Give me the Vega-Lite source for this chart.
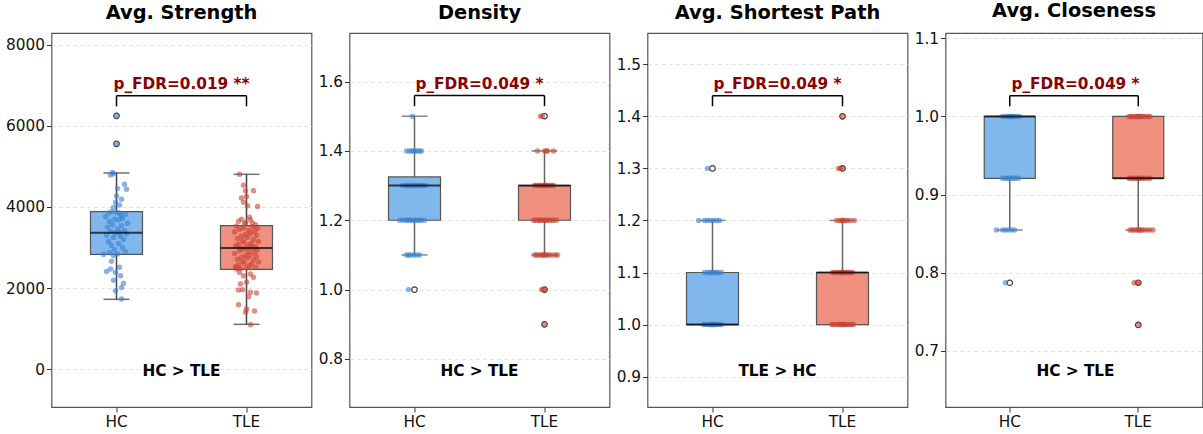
{
"$schema":"https://vega.github.io/schema/vega-lite/v6.json",
"padding":{"left":4.5,"right":0,"top":0,"bottom":0},
"spacing":5,
"config":{
 "font":"DejaVu Sans",
 "view":{"stroke":"#555","strokeWidth":1.2},
 "title":{"fontSize":19.4,"fontWeight":"bold","color":"black","frame":"group","anchor":"middle","offset":10},
 "axis":{"domain":false,"labelFontSize":15.3,"labelColor":"#111","tickColor":"#333","tickSize":5,"labelPadding":2,"title":null},
 "axisY":{"grid":true,"gridDash":[4,3],"gridColor":"#dddddd","gridWidth":0.8},
 "axisX":{"grid":false,"labelAngle":0}
},
"datasets":{
"box":[
 {"m":"S","g":"HC","lo":1721,"q1":2832,"med":3365,"q3":3884,"hi":4840},
 {"m":"S","g":"TLE","lo":1103,"q1":2461,"med":2988,"q3":3538,"hi":4807},
 {"m":"D","g":"HC","lo":1.1,"q1":1.2,"med":1.3,"q3":1.325,"hi":1.5},
 {"m":"D","g":"TLE","lo":1.1,"q1":1.2,"med":1.3,"q3":1.3,"hi":1.4},
 {"m":"P","g":"HC","lo":1.0,"q1":1.0,"med":1.0,"q3":1.1,"hi":1.2},
 {"m":"P","g":"TLE","lo":1.0,"q1":1.0,"med":1.1,"q3":1.1,"hi":1.2},
 {"m":"C","g":"HC","lo":0.8545,"q1":0.9207,"med":1.0,"q3":1.0,"hi":1.0},
 {"m":"C","g":"TLE","lo":0.8545,"q1":0.9207,"med":0.9207,"q3":1.0,"hi":1.0}
],
"fl":[
 {"m":"S","g":"HC","v":6250},{"m":"S","g":"HC","v":5560},
 {"m":"D","g":"HC","v":1.0},{"m":"D","g":"TLE","v":1.5},{"m":"D","g":"TLE","v":1.0},{"m":"D","g":"TLE","v":0.9},
 {"m":"P","g":"HC","v":1.3},{"m":"P","g":"TLE","v":1.3},{"m":"P","g":"TLE","v":1.4},
 {"m":"C","g":"HC","v":0.787},{"m":"C","g":"TLE","v":0.787},{"m":"C","g":"TLE","v":0.733}
],
"br":[
 {"m":"S","g":"HC","v":6748,"v2":6486},{"m":"S","g":"TLE","v":6748,"v2":6486},
 {"m":"D","g":"HC","v":1.5596,"v2":1.529},{"m":"D","g":"TLE","v":1.5596,"v2":1.529},
 {"m":"P","g":"HC","v":1.4397,"v2":1.4193},{"m":"P","g":"TLE","v":1.4397,"v2":1.4193},
 {"m":"C","g":"HC","v":1.0265,"v2":1.0129},{"m":"C","g":"TLE","v":1.0265,"v2":1.0129}
],
"ann":[
 {"m":"S","k":"p","g":"HC","d":65,"v":7037,"t":"p_FDR=0.019 **"},
 {"m":"S","k":"b","g":"HC","d":65,"v":-42,"t":"HC > TLE"},
 {"m":"D","k":"p","g":"HC","d":65,"v":1.5934,"t":"p_FDR=0.049 *"},
 {"m":"D","k":"b","g":"HC","d":65,"v":0.7664,"t":"HC > TLE"},
 {"m":"P","k":"p","g":"HC","d":65,"v":1.4622,"t":"p_FDR=0.049 *"},
 {"m":"P","k":"b","g":"HC","d":65,"v":0.9114,"t":"TLE > HC"},
 {"m":"C","k":"p","g":"HC","d":65,"v":1.0415,"t":"p_FDR=0.049 *"},
 {"m":"C","k":"b","g":"HC","d":65,"v":0.6743,"t":"HC > TLE"}
],
"pts":[
{"m":"S","g":"HC","v":6250,"d":0},{"m":"S","g":"HC","v":5560,"d":0},
{"m":"S","g":"HC","v":4850,"d":-4},{"m":"S","g":"HC","v":4790,"d":-6},{"m":"S","g":"HC","v":4820,"d":-3},{"m":"S","g":"HC","v":4560,"d":8},{"m":"S","g":"HC","v":4440,"d":10},{"m":"S","g":"HC","v":4460,"d":1},{"m":"S","g":"HC","v":4270,"d":0},{"m":"S","g":"HC","v":4190,"d":5},{"m":"S","g":"HC","v":4120,"d":-1},{"m":"S","g":"HC","v":4050,"d":3},{"m":"S","g":"HC","v":3990,"d":-3},{"m":"S","g":"HC","v":3870,"d":0},{"m":"S","g":"HC","v":3850,"d":-8},{"m":"S","g":"HC","v":3790,"d":4},
{"m":"S","g":"HC","v":3880,"d":-5},{"m":"S","g":"HC","v":3850,"d":3},{"m":"S","g":"HC","v":3820,"d":9},{"m":"S","g":"HC","v":3760,"d":-11},{"m":"S","g":"HC","v":3720,"d":6},{"m":"S","g":"HC","v":3700,"d":-2},{"m":"S","g":"HC","v":3680,"d":2},{"m":"S","g":"HC","v":3640,"d":-7},{"m":"S","g":"HC","v":3600,"d":11},{"m":"S","g":"HC","v":3560,"d":-4},{"m":"S","g":"HC","v":3540,"d":5},{"m":"S","g":"HC","v":3500,"d":-9},{"m":"S","g":"HC","v":3460,"d":1},{"m":"S","g":"HC","v":3420,"d":8},{"m":"S","g":"HC","v":3400,"d":-6},{"m":"S","g":"HC","v":3380,"d":3},{"m":"S","g":"HC","v":3360,"d":-1},{"m":"S","g":"HC","v":3340,"d":10},{"m":"S","g":"HC","v":3300,"d":-10},{"m":"S","g":"HC","v":3280,"d":4},{"m":"S","g":"HC","v":3250,"d":-3},{"m":"S","g":"HC","v":3200,"d":7},{"m":"S","g":"HC","v":3150,"d":-8},{"m":"S","g":"HC","v":3100,"d":2},{"m":"S","g":"HC","v":3050,"d":-5},{"m":"S","g":"HC","v":3000,"d":6},{"m":"S","g":"HC","v":2950,"d":-2},{"m":"S","g":"HC","v":2900,"d":9},{"m":"S","g":"HC","v":2870,"d":-7},{"m":"S","g":"HC","v":2840,"d":1},
{"m":"S","g":"HC","v":2830,"d":-13},{"m":"S","g":"HC","v":2800,"d":-3},{"m":"S","g":"HC","v":2660,"d":-5},{"m":"S","g":"HC","v":2410,"d":-10},{"m":"S","g":"HC","v":2470,"d":-6},{"m":"S","g":"HC","v":2510,"d":3},{"m":"S","g":"HC","v":2390,"d":-1},{"m":"S","g":"HC","v":2300,"d":4},{"m":"S","g":"HC","v":2190,"d":-3},{"m":"S","g":"HC","v":2120,"d":7},{"m":"S","g":"HC","v":2010,"d":5},{"m":"S","g":"HC","v":1930,"d":-1},{"m":"S","g":"HC","v":1730,"d":5},
{"m":"S","g":"TLE","v":4810,"d":-7},{"m":"S","g":"TLE","v":4540,"d":-3},{"m":"S","g":"TLE","v":4400,"d":-1},{"m":"S","g":"TLE","v":4400,"d":7},{"m":"S","g":"TLE","v":4220,"d":-5},{"m":"S","g":"TLE","v":4260,"d":0},{"m":"S","g":"TLE","v":4120,"d":-3},{"m":"S","g":"TLE","v":4030,"d":1},{"m":"S","g":"TLE","v":4010,"d":11},{"m":"S","g":"TLE","v":3750,"d":3},{"m":"S","g":"TLE","v":3700,"d":-5},{"m":"S","g":"TLE","v":3620,"d":-1},{"m":"S","g":"TLE","v":3680,"d":4},{"m":"S","g":"TLE","v":3650,"d":-8},{"m":"S","g":"TLE","v":3600,"d":6},{"m":"S","g":"TLE","v":3580,"d":-2},{"m":"S","g":"TLE","v":3560,"d":9},
{"m":"S","g":"TLE","v":3530,"d":-10},{"m":"S","g":"TLE","v":3510,"d":6},{"m":"S","g":"TLE","v":3490,"d":-3},{"m":"S","g":"TLE","v":3470,"d":11},{"m":"S","g":"TLE","v":3450,"d":-7},{"m":"S","g":"TLE","v":3420,"d":2},{"m":"S","g":"TLE","v":3400,"d":8},{"m":"S","g":"TLE","v":3380,"d":-12},{"m":"S","g":"TLE","v":3350,"d":4},{"m":"S","g":"TLE","v":3320,"d":-1},{"m":"S","g":"TLE","v":3300,"d":10},{"m":"S","g":"TLE","v":3280,"d":-5},{"m":"S","g":"TLE","v":3250,"d":1},{"m":"S","g":"TLE","v":3220,"d":-9},{"m":"S","g":"TLE","v":3200,"d":7},{"m":"S","g":"TLE","v":3170,"d":-4},{"m":"S","g":"TLE","v":3150,"d":12},{"m":"S","g":"TLE","v":3120,"d":-2},{"m":"S","g":"TLE","v":3100,"d":5},{"m":"S","g":"TLE","v":3080,"d":-8},{"m":"S","g":"TLE","v":3060,"d":3},{"m":"S","g":"TLE","v":3040,"d":-11},{"m":"S","g":"TLE","v":3020,"d":9},{"m":"S","g":"TLE","v":3000,"d":0},{"m":"S","g":"TLE","v":2990,"d":-6},
{"m":"S","g":"TLE","v":2980,"d":6},{"m":"S","g":"TLE","v":2960,"d":-3},{"m":"S","g":"TLE","v":2940,"d":11},{"m":"S","g":"TLE","v":2920,"d":-7},{"m":"S","g":"TLE","v":2900,"d":2},{"m":"S","g":"TLE","v":2880,"d":8},{"m":"S","g":"TLE","v":2850,"d":-12},{"m":"S","g":"TLE","v":2820,"d":4},{"m":"S","g":"TLE","v":2800,"d":-1},{"m":"S","g":"TLE","v":2780,"d":10},{"m":"S","g":"TLE","v":2760,"d":-5},{"m":"S","g":"TLE","v":2740,"d":1},{"m":"S","g":"TLE","v":2710,"d":-9},{"m":"S","g":"TLE","v":2690,"d":7},{"m":"S","g":"TLE","v":2660,"d":-4},{"m":"S","g":"TLE","v":2640,"d":12},{"m":"S","g":"TLE","v":2610,"d":-2},{"m":"S","g":"TLE","v":2590,"d":5},{"m":"S","g":"TLE","v":2570,"d":-8},{"m":"S","g":"TLE","v":2550,"d":3},{"m":"S","g":"TLE","v":2530,"d":-11},{"m":"S","g":"TLE","v":2510,"d":9},{"m":"S","g":"TLE","v":2490,"d":0},{"m":"S","g":"TLE","v":2480,"d":-6},{"m":"S","g":"TLE","v":2470,"d":-10},
{"m":"S","g":"TLE","v":2387,"d":-7},{"m":"S","g":"TLE","v":2304,"d":-3},{"m":"S","g":"TLE","v":2346,"d":4},{"m":"S","g":"TLE","v":2264,"d":7},{"m":"S","g":"TLE","v":2099,"d":-6},{"m":"S","g":"TLE","v":2140,"d":0},{"m":"S","g":"TLE","v":1950,"d":-8},{"m":"S","g":"TLE","v":1958,"d":-4},{"m":"S","g":"TLE","v":1893,"d":4},{"m":"S","g":"TLE","v":1877,"d":10},{"m":"S","g":"TLE","v":1786,"d":2},{"m":"S","g":"TLE","v":1588,"d":-8},{"m":"S","g":"TLE","v":1432,"d":8},{"m":"S","g":"TLE","v":1481,"d":0},{"m":"S","g":"TLE","v":1400,"d":-1},{"m":"S","g":"TLE","v":1094,"d":4},

{"m":"D","g":"HC","v":1.5,"d":-2},
{"m":"D","g":"HC","v":1.4,"d":-8},{"m":"D","g":"HC","v":1.4,"d":-5},{"m":"D","g":"HC","v":1.4,"d":-3},{"m":"D","g":"HC","v":1.4,"d":-1},{"m":"D","g":"HC","v":1.4,"d":1},{"m":"D","g":"HC","v":1.4,"d":3},{"m":"D","g":"HC","v":1.4,"d":5},{"m":"D","g":"HC","v":1.4,"d":7},
{"m":"D","g":"HC","v":1.3,"d":-12},{"m":"D","g":"HC","v":1.3,"d":-9},{"m":"D","g":"HC","v":1.3,"d":-7},{"m":"D","g":"HC","v":1.3,"d":-5},{"m":"D","g":"HC","v":1.3,"d":-3},{"m":"D","g":"HC","v":1.3,"d":-1},{"m":"D","g":"HC","v":1.3,"d":0},{"m":"D","g":"HC","v":1.3,"d":2},{"m":"D","g":"HC","v":1.3,"d":4},{"m":"D","g":"HC","v":1.3,"d":6},{"m":"D","g":"HC","v":1.3,"d":8},{"m":"D","g":"HC","v":1.3,"d":11},
{"m":"D","g":"HC","v":1.2,"d":-15},{"m":"D","g":"HC","v":1.2,"d":-12},{"m":"D","g":"HC","v":1.2,"d":-9},{"m":"D","g":"HC","v":1.2,"d":-7},{"m":"D","g":"HC","v":1.2,"d":-5},{"m":"D","g":"HC","v":1.2,"d":-3},{"m":"D","g":"HC","v":1.2,"d":-1},{"m":"D","g":"HC","v":1.2,"d":1},{"m":"D","g":"HC","v":1.2,"d":3},{"m":"D","g":"HC","v":1.2,"d":5},{"m":"D","g":"HC","v":1.2,"d":7},{"m":"D","g":"HC","v":1.2,"d":10},
{"m":"D","g":"HC","v":1.1,"d":-8},{"m":"D","g":"HC","v":1.1,"d":-6},{"m":"D","g":"HC","v":1.1,"d":-4},{"m":"D","g":"HC","v":1.1,"d":-1},{"m":"D","g":"HC","v":1.1,"d":2},{"m":"D","g":"HC","v":1.1,"d":5},
{"m":"D","g":"HC","v":1.0,"d":-6},
{"m":"D","g":"TLE","v":1.5,"d":-4},{"m":"D","g":"TLE","v":1.5,"d":-2},
{"m":"D","g":"TLE","v":1.4,"d":-7},{"m":"D","g":"TLE","v":1.4,"d":0},{"m":"D","g":"TLE","v":1.4,"d":2},{"m":"D","g":"TLE","v":1.4,"d":3},{"m":"D","g":"TLE","v":1.4,"d":9},
{"m":"D","g":"TLE","v":1.3,"d":-10},{"m":"D","g":"TLE","v":1.3,"d":-8},{"m":"D","g":"TLE","v":1.3,"d":-6},{"m":"D","g":"TLE","v":1.3,"d":-4},{"m":"D","g":"TLE","v":1.3,"d":-3},{"m":"D","g":"TLE","v":1.3,"d":-1},{"m":"D","g":"TLE","v":1.3,"d":0},{"m":"D","g":"TLE","v":1.3,"d":1},{"m":"D","g":"TLE","v":1.3,"d":2},{"m":"D","g":"TLE","v":1.3,"d":3},{"m":"D","g":"TLE","v":1.3,"d":5},{"m":"D","g":"TLE","v":1.3,"d":7},{"m":"D","g":"TLE","v":1.3,"d":9},
{"m":"D","g":"TLE","v":1.2,"d":-11},{"m":"D","g":"TLE","v":1.2,"d":-9},{"m":"D","g":"TLE","v":1.2,"d":-7},{"m":"D","g":"TLE","v":1.2,"d":-5},{"m":"D","g":"TLE","v":1.2,"d":-4},{"m":"D","g":"TLE","v":1.2,"d":-2},{"m":"D","g":"TLE","v":1.2,"d":0},{"m":"D","g":"TLE","v":1.2,"d":1},{"m":"D","g":"TLE","v":1.2,"d":3},{"m":"D","g":"TLE","v":1.2,"d":5},{"m":"D","g":"TLE","v":1.2,"d":7},{"m":"D","g":"TLE","v":1.2,"d":9},{"m":"D","g":"TLE","v":1.2,"d":12},
{"m":"D","g":"TLE","v":1.1,"d":-10},{"m":"D","g":"TLE","v":1.1,"d":-8},{"m":"D","g":"TLE","v":1.1,"d":-6},{"m":"D","g":"TLE","v":1.1,"d":-4},{"m":"D","g":"TLE","v":1.1,"d":-2},{"m":"D","g":"TLE","v":1.1,"d":-1},{"m":"D","g":"TLE","v":1.1,"d":0},{"m":"D","g":"TLE","v":1.1,"d":1},{"m":"D","g":"TLE","v":1.1,"d":3},{"m":"D","g":"TLE","v":1.1,"d":5},{"m":"D","g":"TLE","v":1.1,"d":8},{"m":"D","g":"TLE","v":1.1,"d":11},{"m":"D","g":"TLE","v":1.1,"d":13},
{"m":"D","g":"TLE","v":1.0,"d":-3},{"m":"D","g":"TLE","v":1.0,"d":-1},{"m":"D","g":"TLE","v":1.0,"d":0},
{"m":"D","g":"TLE","v":0.9,"d":0},

{"m":"P","g":"HC","v":1.3,"d":-5},
{"m":"P","g":"HC","v":1.2,"d":-14},{"m":"P","g":"HC","v":1.2,"d":-8},{"m":"P","g":"HC","v":1.2,"d":-5},{"m":"P","g":"HC","v":1.2,"d":-2},{"m":"P","g":"HC","v":1.2,"d":1},{"m":"P","g":"HC","v":1.2,"d":4},{"m":"P","g":"HC","v":1.2,"d":7},
{"m":"P","g":"HC","v":1.1,"d":-8},{"m":"P","g":"HC","v":1.1,"d":-5},{"m":"P","g":"HC","v":1.1,"d":-3},{"m":"P","g":"HC","v":1.1,"d":-1},{"m":"P","g":"HC","v":1.1,"d":0},{"m":"P","g":"HC","v":1.1,"d":2},{"m":"P","g":"HC","v":1.1,"d":4},{"m":"P","g":"HC","v":1.1,"d":6},{"m":"P","g":"HC","v":1.1,"d":9},
{"m":"P","g":"HC","v":1.0,"d":-9},{"m":"P","g":"HC","v":1.0,"d":-7},{"m":"P","g":"HC","v":1.0,"d":-5},{"m":"P","g":"HC","v":1.0,"d":-3},{"m":"P","g":"HC","v":1.0,"d":-2},{"m":"P","g":"HC","v":1.0,"d":-1},{"m":"P","g":"HC","v":1.0,"d":0},{"m":"P","g":"HC","v":1.0,"d":1},{"m":"P","g":"HC","v":1.0,"d":2},{"m":"P","g":"HC","v":1.0,"d":3},{"m":"P","g":"HC","v":1.0,"d":5},{"m":"P","g":"HC","v":1.0,"d":7},{"m":"P","g":"HC","v":1.0,"d":9},
{"m":"P","g":"TLE","v":1.4,"d":0},
{"m":"P","g":"TLE","v":1.3,"d":-4},{"m":"P","g":"TLE","v":1.3,"d":-2},{"m":"P","g":"TLE","v":1.3,"d":0},
{"m":"P","g":"TLE","v":1.2,"d":-6},{"m":"P","g":"TLE","v":1.2,"d":-3},{"m":"P","g":"TLE","v":1.2,"d":-1},{"m":"P","g":"TLE","v":1.2,"d":0},{"m":"P","g":"TLE","v":1.2,"d":1},{"m":"P","g":"TLE","v":1.2,"d":3},{"m":"P","g":"TLE","v":1.2,"d":5},{"m":"P","g":"TLE","v":1.2,"d":8},{"m":"P","g":"TLE","v":1.2,"d":12},
{"m":"P","g":"TLE","v":1.1,"d":-10},{"m":"P","g":"TLE","v":1.1,"d":-8},{"m":"P","g":"TLE","v":1.1,"d":-6},{"m":"P","g":"TLE","v":1.1,"d":-4},{"m":"P","g":"TLE","v":1.1,"d":-2},{"m":"P","g":"TLE","v":1.1,"d":-1},{"m":"P","g":"TLE","v":1.1,"d":0},{"m":"P","g":"TLE","v":1.1,"d":1},{"m":"P","g":"TLE","v":1.1,"d":2},{"m":"P","g":"TLE","v":1.1,"d":4},{"m":"P","g":"TLE","v":1.1,"d":6},{"m":"P","g":"TLE","v":1.1,"d":8},{"m":"P","g":"TLE","v":1.1,"d":10},
{"m":"P","g":"TLE","v":1.0,"d":-11},{"m":"P","g":"TLE","v":1.0,"d":-9},{"m":"P","g":"TLE","v":1.0,"d":-7},{"m":"P","g":"TLE","v":1.0,"d":-5},{"m":"P","g":"TLE","v":1.0,"d":-3},{"m":"P","g":"TLE","v":1.0,"d":-2},{"m":"P","g":"TLE","v":1.0,"d":-1},{"m":"P","g":"TLE","v":1.0,"d":0},{"m":"P","g":"TLE","v":1.0,"d":1},{"m":"P","g":"TLE","v":1.0,"d":2},{"m":"P","g":"TLE","v":1.0,"d":3},{"m":"P","g":"TLE","v":1.0,"d":5},{"m":"P","g":"TLE","v":1.0,"d":7},{"m":"P","g":"TLE","v":1.0,"d":9},{"m":"P","g":"TLE","v":1.0,"d":11},

{"m":"C","g":"HC","v":1.0,"d":-8},{"m":"C","g":"HC","v":1.0,"d":-5},{"m":"C","g":"HC","v":1.0,"d":-3},{"m":"C","g":"HC","v":1.0,"d":-1},{"m":"C","g":"HC","v":1.0,"d":0},{"m":"C","g":"HC","v":1.0,"d":1},{"m":"C","g":"HC","v":1.0,"d":2},{"m":"C","g":"HC","v":1.0,"d":4},{"m":"C","g":"HC","v":1.0,"d":6},{"m":"C","g":"HC","v":1.0,"d":9},
{"m":"C","g":"HC","v":0.9207,"d":-8},{"m":"C","g":"HC","v":0.9207,"d":-5},{"m":"C","g":"HC","v":0.9207,"d":-3},{"m":"C","g":"HC","v":0.9207,"d":-1},{"m":"C","g":"HC","v":0.9207,"d":1},{"m":"C","g":"HC","v":0.9207,"d":3},{"m":"C","g":"HC","v":0.9207,"d":5},{"m":"C","g":"HC","v":0.9207,"d":8},
{"m":"C","g":"HC","v":0.8545,"d":-14},{"m":"C","g":"HC","v":0.8545,"d":-8},{"m":"C","g":"HC","v":0.8545,"d":-5},{"m":"C","g":"HC","v":0.8545,"d":-2},{"m":"C","g":"HC","v":0.8545,"d":1},{"m":"C","g":"HC","v":0.8545,"d":4},
{"m":"C","g":"HC","v":0.787,"d":-5},
{"m":"C","g":"TLE","v":1.0,"d":-10},{"m":"C","g":"TLE","v":1.0,"d":-8},{"m":"C","g":"TLE","v":1.0,"d":-6},{"m":"C","g":"TLE","v":1.0,"d":-4},{"m":"C","g":"TLE","v":1.0,"d":-2},{"m":"C","g":"TLE","v":1.0,"d":-1},{"m":"C","g":"TLE","v":1.0,"d":0},{"m":"C","g":"TLE","v":1.0,"d":1},{"m":"C","g":"TLE","v":1.0,"d":2},{"m":"C","g":"TLE","v":1.0,"d":4},{"m":"C","g":"TLE","v":1.0,"d":6},{"m":"C","g":"TLE","v":1.0,"d":9},{"m":"C","g":"TLE","v":1.0,"d":11},
{"m":"C","g":"TLE","v":0.9207,"d":-10},{"m":"C","g":"TLE","v":0.9207,"d":-8},{"m":"C","g":"TLE","v":0.9207,"d":-6},{"m":"C","g":"TLE","v":0.9207,"d":-4},{"m":"C","g":"TLE","v":0.9207,"d":-2},{"m":"C","g":"TLE","v":0.9207,"d":0},{"m":"C","g":"TLE","v":0.9207,"d":1},{"m":"C","g":"TLE","v":0.9207,"d":3},{"m":"C","g":"TLE","v":0.9207,"d":5},{"m":"C","g":"TLE","v":0.9207,"d":8},{"m":"C","g":"TLE","v":0.9207,"d":11},
{"m":"C","g":"TLE","v":0.8545,"d":-9},{"m":"C","g":"TLE","v":0.8545,"d":-7},{"m":"C","g":"TLE","v":0.8545,"d":-5},{"m":"C","g":"TLE","v":0.8545,"d":-3},{"m":"C","g":"TLE","v":0.8545,"d":-1},{"m":"C","g":"TLE","v":0.8545,"d":0},{"m":"C","g":"TLE","v":0.8545,"d":1},{"m":"C","g":"TLE","v":0.8545,"d":3},{"m":"C","g":"TLE","v":0.8545,"d":5},{"m":"C","g":"TLE","v":0.8545,"d":8},{"m":"C","g":"TLE","v":0.8545,"d":11},{"m":"C","g":"TLE","v":0.8545,"d":14},
{"m":"C","g":"TLE","v":0.787,"d":-5},{"m":"C","g":"TLE","v":0.787,"d":-2},{"m":"C","g":"TLE","v":0.787,"d":0},
{"m":"C","g":"TLE","v":0.733,"d":0}
]
},
"hconcat":[
{
 "width":260,"height":374,
 "title":"Avg. Strength",
 "encoding":{"x":{"field":"g","type":"nominal","scale":{"domain":["HC","TLE"],"paddingInner":0,"paddingOuter":0}}},
 "layer":[
  {"data":{"name":"box"},"transform":[{"filter":"datum.m=='S'"}],"mark":{"type":"rule","color":"#444","strokeWidth":1.5},
   "encoding":{"y":{"field":"lo","type":"quantitative","scale":{"domain":[-938,8296],"nice":false,"zero":false},"axis":{"values":[0,2000,4000,6000,8000],"format":"d"}},"y2":{"field":"hi"}}},
  {"data":{"name":"box"},"transform":[{"filter":"datum.m=='S'"}],"mark":{"type":"tick","color":"#333","size":26,"thickness":1.5},"encoding":{"y":{"field":"lo","type":"quantitative"}}},
  {"data":{"name":"box"},"transform":[{"filter":"datum.m=='S'"}],"mark":{"type":"tick","color":"#333","size":26,"thickness":1.5},"encoding":{"y":{"field":"hi","type":"quantitative"}}},
  {"data":{"name":"box"},"transform":[{"filter":"datum.m=='S'"}],"mark":{"type":"bar","size":52,"stroke":"#555","strokeWidth":1.2,"opacity":1},
   "encoding":{"y":{"field":"q1","type":"quantitative"},"y2":{"field":"q3"},"fill":{"field":"g","type":"nominal","scale":{"domain":["HC","TLE"],"range":["#80b8ee","#ef9080"]},"legend":null}}},
  {"data":{"name":"fl"},"transform":[{"filter":"datum.m=='S'"}],"mark":{"type":"point","filled":true,"fill":"white","stroke":"#333","strokeWidth":1.2,"size":30,"opacity":1},"encoding":{"y":{"field":"v","type":"quantitative"}}},
  {"data":{"name":"pts"},"transform":[{"filter":"datum.m=='S'"}],"mark":{"type":"circle","size":30,"opacity":0.6},
   "encoding":{"y":{"field":"v","type":"quantitative"},"xOffset":{"field":"d","type":"quantitative","scale":{"domain":[-65,65],"range":[0,130]}},"color":{"field":"g","type":"nominal","scale":{"domain":["HC","TLE"],"range":["#3a80d0","#c84535"]},"legend":null}}},
  {"data":{"name":"box"},"transform":[{"filter":"datum.m=='S'"}],"mark":{"type":"tick","color":"black","size":52,"thickness":2},"encoding":{"y":{"field":"med","type":"quantitative"}}},
  {"data":{"name":"br"},"transform":[{"filter":"datum.m=='S'"}],"mark":{"type":"line","color":"black","strokeWidth":1.5},"encoding":{"y":{"field":"v","type":"quantitative"}}},
  {"data":{"name":"br"},"transform":[{"filter":"datum.m=='S'"}],"mark":{"type":"rule","color":"black","strokeWidth":1.5},"encoding":{"y":{"field":"v","type":"quantitative"},"y2":{"field":"v2"}}},
  {"data":{"name":"ann"},"transform":[{"filter":"datum.m=='S' && datum.k=='p'"}],"mark":{"type":"text","fontSize":15.3,"fontWeight":"bold","color":"#8b0000","baseline":"middle","align":"center"},
   "encoding":{"y":{"field":"v","type":"quantitative"},"xOffset":{"field":"d","type":"quantitative","scale":{"domain":[-65,65],"range":[0,130]}},"text":{"field":"t"}}},
  {"data":{"name":"ann"},"transform":[{"filter":"datum.m=='S' && datum.k=='b'"}],"mark":{"type":"text","fontSize":15.3,"fontWeight":"bold","color":"black","baseline":"middle","align":"center"},
   "encoding":{"y":{"field":"v","type":"quantitative"},"xOffset":{"field":"d","type":"quantitative","scale":{"domain":[-65,65],"range":[0,130]}},"text":{"field":"t"}}}
 ]
},
{
 "width":260,"height":374,
 "title":"Density",
 "encoding":{"x":{"field":"g","type":"nominal","scale":{"domain":["HC","TLE"],"paddingInner":0,"paddingOuter":0}}},
 "layer":[
  {"data":{"name":"box"},"transform":[{"filter":"datum.m=='D'"}],"mark":{"type":"rule","color":"#666","strokeWidth":1.5},
   "encoding":{"y":{"field":"lo","type":"quantitative","scale":{"domain":[0.6615,1.74],"nice":false,"zero":false},"axis":{"values":[0.8,1.0,1.2,1.4,1.6],"format":".1f"}},"y2":{"field":"hi"}}},
  {"data":{"name":"box"},"transform":[{"filter":"datum.m=='D'"}],"mark":{"type":"tick","color":"#555","size":26,"thickness":1.5},"encoding":{"y":{"field":"lo","type":"quantitative"}}},
  {"data":{"name":"box"},"transform":[{"filter":"datum.m=='D'"}],"mark":{"type":"tick","color":"#555","size":26,"thickness":1.5},"encoding":{"y":{"field":"hi","type":"quantitative"}}},
  {"data":{"name":"box"},"transform":[{"filter":"datum.m=='D'"}],"mark":{"type":"bar","size":52,"stroke":"#555","strokeWidth":1.2,"opacity":1},
   "encoding":{"y":{"field":"q1","type":"quantitative"},"y2":{"field":"q3"},"fill":{"field":"g","type":"nominal","scale":{"domain":["HC","TLE"],"range":["#80b8ee","#ef9080"]},"legend":null}}},
  {"data":{"name":"fl"},"transform":[{"filter":"datum.m=='D'"}],"mark":{"type":"point","filled":true,"fill":"white","stroke":"#333","strokeWidth":1.2,"size":30,"opacity":1},"encoding":{"y":{"field":"v","type":"quantitative"}}},
  {"data":{"name":"pts"},"transform":[{"filter":"datum.m=='D'"}],"mark":{"type":"circle","size":30,"opacity":0.6},
   "encoding":{"y":{"field":"v","type":"quantitative"},"xOffset":{"field":"d","type":"quantitative","scale":{"domain":[-65,65],"range":[0,130]}},"color":{"field":"g","type":"nominal","scale":{"domain":["HC","TLE"],"range":["#1f5fa8","#a02818"]},"legend":null}}},
  {"data":{"name":"box"},"transform":[{"filter":"datum.m=='D'"}],"mark":{"type":"tick","color":"black","size":52,"thickness":2},"encoding":{"y":{"field":"med","type":"quantitative"}}},
  {"data":{"name":"br"},"transform":[{"filter":"datum.m=='D'"}],"mark":{"type":"line","color":"black","strokeWidth":1.5},"encoding":{"y":{"field":"v","type":"quantitative"}}},
  {"data":{"name":"br"},"transform":[{"filter":"datum.m=='D'"}],"mark":{"type":"rule","color":"black","strokeWidth":1.5},"encoding":{"y":{"field":"v","type":"quantitative"},"y2":{"field":"v2"}}},
  {"data":{"name":"ann"},"transform":[{"filter":"datum.m=='D' && datum.k=='p'"}],"mark":{"type":"text","fontSize":15.3,"fontWeight":"bold","color":"#8b0000","baseline":"middle","align":"center"},
   "encoding":{"y":{"field":"v","type":"quantitative"},"xOffset":{"field":"d","type":"quantitative","scale":{"domain":[-65,65],"range":[0,130]}},"text":{"field":"t"}}},
  {"data":{"name":"ann"},"transform":[{"filter":"datum.m=='D' && datum.k=='b'"}],"mark":{"type":"text","fontSize":15.3,"fontWeight":"bold","color":"black","baseline":"middle","align":"center"},
   "encoding":{"y":{"field":"v","type":"quantitative"},"xOffset":{"field":"d","type":"quantitative","scale":{"domain":[-65,65],"range":[0,130]}},"text":{"field":"t"}}}
 ]
},
{
 "width":260,"height":374,
 "title":"Avg. Shortest Path",
 "encoding":{"x":{"field":"g","type":"nominal","scale":{"domain":["HC","TLE"],"paddingInner":0,"paddingOuter":0}}},
 "layer":[
  {"data":{"name":"box"},"transform":[{"filter":"datum.m=='P'"}],"mark":{"type":"rule","color":"#666","strokeWidth":1.5},
   "encoding":{"y":{"field":"lo","type":"quantitative","scale":{"domain":[0.8417,1.56],"nice":false,"zero":false},"axis":{"values":[0.9,1.0,1.1,1.2,1.3,1.4,1.5],"format":".1f"}},"y2":{"field":"hi"}}},
  {"data":{"name":"box"},"transform":[{"filter":"datum.m=='P'"}],"mark":{"type":"tick","color":"#555","size":26,"thickness":1.5},"encoding":{"y":{"field":"lo","type":"quantitative"}}},
  {"data":{"name":"box"},"transform":[{"filter":"datum.m=='P'"}],"mark":{"type":"tick","color":"#555","size":26,"thickness":1.5},"encoding":{"y":{"field":"hi","type":"quantitative"}}},
  {"data":{"name":"box"},"transform":[{"filter":"datum.m=='P'"}],"mark":{"type":"bar","size":52,"stroke":"#555","strokeWidth":1.2,"opacity":1},
   "encoding":{"y":{"field":"q1","type":"quantitative"},"y2":{"field":"q3"},"fill":{"field":"g","type":"nominal","scale":{"domain":["HC","TLE"],"range":["#80b8ee","#ef9080"]},"legend":null}}},
  {"data":{"name":"fl"},"transform":[{"filter":"datum.m=='P'"}],"mark":{"type":"point","filled":true,"fill":"white","stroke":"#333","strokeWidth":1.2,"size":30,"opacity":1},"encoding":{"y":{"field":"v","type":"quantitative"}}},
  {"data":{"name":"pts"},"transform":[{"filter":"datum.m=='P'"}],"mark":{"type":"circle","size":30,"opacity":0.6},
   "encoding":{"y":{"field":"v","type":"quantitative"},"xOffset":{"field":"d","type":"quantitative","scale":{"domain":[-65,65],"range":[0,130]}},"color":{"field":"g","type":"nominal","scale":{"domain":["HC","TLE"],"range":["#1f5fa8","#a02818"]},"legend":null}}},
  {"data":{"name":"box"},"transform":[{"filter":"datum.m=='P'"}],"mark":{"type":"tick","color":"black","size":52,"thickness":2},"encoding":{"y":{"field":"med","type":"quantitative"}}},
  {"data":{"name":"br"},"transform":[{"filter":"datum.m=='P'"}],"mark":{"type":"line","color":"black","strokeWidth":1.5},"encoding":{"y":{"field":"v","type":"quantitative"}}},
  {"data":{"name":"br"},"transform":[{"filter":"datum.m=='P'"}],"mark":{"type":"rule","color":"black","strokeWidth":1.5},"encoding":{"y":{"field":"v","type":"quantitative"},"y2":{"field":"v2"}}},
  {"data":{"name":"ann"},"transform":[{"filter":"datum.m=='P' && datum.k=='p'"}],"mark":{"type":"text","fontSize":15.3,"fontWeight":"bold","color":"#8b0000","baseline":"middle","align":"center"},
   "encoding":{"y":{"field":"v","type":"quantitative"},"xOffset":{"field":"d","type":"quantitative","scale":{"domain":[-65,65],"range":[0,130]}},"text":{"field":"t"}}},
  {"data":{"name":"ann"},"transform":[{"filter":"datum.m=='P' && datum.k=='b'"}],"mark":{"type":"text","fontSize":15.3,"fontWeight":"bold","color":"black","baseline":"middle","align":"center"},
   "encoding":{"y":{"field":"v","type":"quantitative"},"xOffset":{"field":"d","type":"quantitative","scale":{"domain":[-65,65],"range":[0,130]}},"text":{"field":"t"}}}
 ]
},
{
 "width":257,"height":374,
 "title":"Avg. Closeness",
 "encoding":{"x":{"field":"g","type":"nominal","scale":{"domain":["HC","TLE"],"paddingInner":0,"paddingOuter":0}}},
 "layer":[
  {"data":{"name":"box"},"transform":[{"filter":"datum.m=='C'"}],"mark":{"type":"rule","color":"#666","strokeWidth":1.5},
   "encoding":{"y":{"field":"lo","type":"quantitative","scale":{"domain":[0.6279,1.1068],"nice":false,"zero":false},"axis":{"values":[0.7,0.8,0.9,1.0,1.1],"format":".1f"}},"y2":{"field":"hi"}}},
  {"data":{"name":"box"},"transform":[{"filter":"datum.m=='C'"}],"mark":{"type":"tick","color":"#555","size":26,"thickness":1.5},"encoding":{"y":{"field":"lo","type":"quantitative"}}},
  {"data":{"name":"box"},"transform":[{"filter":"datum.m=='C'"}],"mark":{"type":"tick","color":"#555","size":26,"thickness":1.5},"encoding":{"y":{"field":"hi","type":"quantitative"}}},
  {"data":{"name":"box"},"transform":[{"filter":"datum.m=='C'"}],"mark":{"type":"bar","size":51,"stroke":"#555","strokeWidth":1.2,"opacity":1},
   "encoding":{"y":{"field":"q1","type":"quantitative"},"y2":{"field":"q3"},"fill":{"field":"g","type":"nominal","scale":{"domain":["HC","TLE"],"range":["#80b8ee","#ef9080"]},"legend":null}}},
  {"data":{"name":"fl"},"transform":[{"filter":"datum.m=='C'"}],"mark":{"type":"point","filled":true,"fill":"white","stroke":"#333","strokeWidth":1.2,"size":30,"opacity":1},"encoding":{"y":{"field":"v","type":"quantitative"}}},
  {"data":{"name":"pts"},"transform":[{"filter":"datum.m=='C'"}],"mark":{"type":"circle","size":30,"opacity":0.6},
   "encoding":{"y":{"field":"v","type":"quantitative"},"xOffset":{"field":"d","type":"quantitative","scale":{"domain":[-64.25,64.25],"range":[0,128.5]}},"color":{"field":"g","type":"nominal","scale":{"domain":["HC","TLE"],"range":["#1f5fa8","#a02818"]},"legend":null}}},
  {"data":{"name":"box"},"transform":[{"filter":"datum.m=='C'"}],"mark":{"type":"tick","color":"black","size":51,"thickness":2},"encoding":{"y":{"field":"med","type":"quantitative"}}},
  {"data":{"name":"br"},"transform":[{"filter":"datum.m=='C'"}],"mark":{"type":"line","color":"black","strokeWidth":1.5},"encoding":{"y":{"field":"v","type":"quantitative"}}},
  {"data":{"name":"br"},"transform":[{"filter":"datum.m=='C'"}],"mark":{"type":"rule","color":"black","strokeWidth":1.5},"encoding":{"y":{"field":"v","type":"quantitative"},"y2":{"field":"v2"}}},
  {"data":{"name":"ann"},"transform":[{"filter":"datum.m=='C' && datum.k=='p'"}],"mark":{"type":"text","fontSize":15.3,"fontWeight":"bold","color":"#8b0000","baseline":"middle","align":"center"},
   "encoding":{"y":{"field":"v","type":"quantitative"},"xOffset":{"field":"d","type":"quantitative","scale":{"domain":[-64.25,64.25],"range":[0,128.5]}},"text":{"field":"t"}}},
  {"data":{"name":"ann"},"transform":[{"filter":"datum.m=='C' && datum.k=='b'"}],"mark":{"type":"text","fontSize":15.3,"fontWeight":"bold","color":"black","baseline":"middle","align":"center"},
   "encoding":{"y":{"field":"v","type":"quantitative"},"xOffset":{"field":"d","type":"quantitative","scale":{"domain":[-64.25,64.25],"range":[0,128.5]}},"text":{"field":"t"}}}
 ]
}
]
}
